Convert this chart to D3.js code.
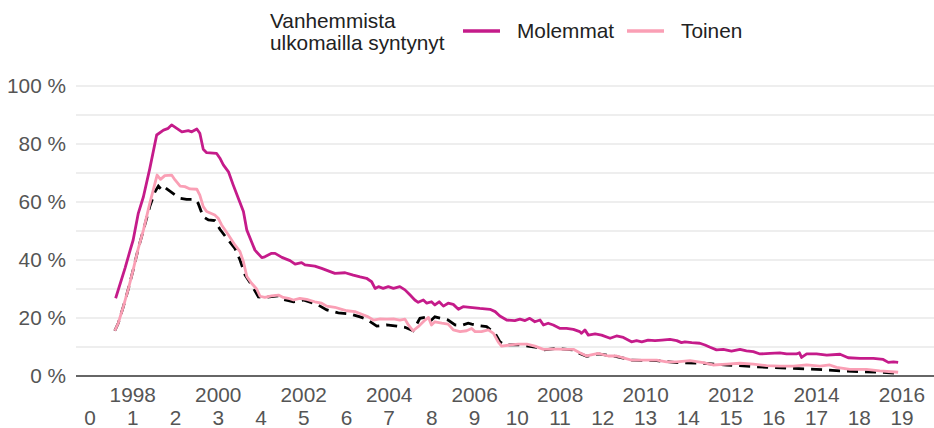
<!DOCTYPE html>
<html lang="fi">

<head>
    <meta charset="UTF-8">
    <title>Vanhemmista ulkomailla syntynyt</title>
    <style>
        body {
            margin: 0;
            background: #fff;
        }

        svg text {
            font-family: "Liberation Sans", Arial, sans-serif;
        }
    </style>
</head>

<body>
    <script src="https://d3js.org/d3.v7.min.js"></script>
    <script>

        // data: [year, percent]
        let molemmat = [
            [1997.60, 26.8], [1997.82, 37.2], [1997.94, 43.4], [1998.01, 46.9], [1998.13, 56.1],
            [1998.25, 61.8], [1998.40, 71.6], [1998.56, 83.1], [1998.72, 84.8], [1998.83, 85.4],
            [1998.91, 86.6], [1999.03, 85.4], [1999.15, 84.2], [1999.30, 84.6], [1999.38, 84.2],
            [1999.50, 85.2], [1999.57, 83.7], [1999.65, 78.2], [1999.73, 77.0], [1999.96, 76.8],
            [2000.04, 75.1], [2000.12, 72.8], [2000.24, 70.4], [2000.35, 65.9], [2000.47, 61.3],
            [2000.59, 56.7], [2000.67, 50.3], [2000.78, 46.3], [2000.86, 43.4], [2001.02, 40.8],
            [2001.09, 41.1], [2001.25, 42.3], [2001.33, 42.3], [2001.49, 40.9], [2001.68, 39.8],
            [2001.80, 38.6], [2001.95, 39.1], [2002.03, 38.3], [2002.26, 37.9], [2002.42, 37.1],
            [2002.62, 36.0], [2002.73, 35.4], [2002.97, 35.6], [2003.16, 34.8], [2003.32, 34.2],
            [2003.47, 33.7], [2003.59, 32.5], [2003.67, 30.2], [2003.75, 30.8], [2003.86, 30.2],
            [2003.98, 30.8], [2004.10, 30.2], [2004.25, 30.8], [2004.37, 29.7], [2004.49, 27.9],
            [2004.60, 26.2], [2004.68, 25.4], [2004.80, 26.2], [2004.88, 25.1], [2004.99, 25.6],
            [2005.07, 24.5], [2005.17, 25.6], [2005.27, 24.1], [2005.38, 25.1], [2005.50, 24.7],
            [2005.62, 23.0], [2005.73, 23.9], [2005.89, 23.7], [2006.12, 23.3], [2006.36, 23.0],
            [2006.48, 22.2], [2006.59, 20.7], [2006.75, 19.3], [2006.94, 19.1], [2007.06, 19.6],
            [2007.18, 19.1], [2007.29, 19.9], [2007.41, 18.7], [2007.53, 19.3], [2007.61, 17.6],
            [2007.72, 18.2], [2007.84, 17.6], [2008.00, 16.4], [2008.15, 16.4], [2008.31, 16.1],
            [2008.46, 15.3], [2008.50, 14.7], [2008.58, 15.9], [2008.66, 14.1], [2008.82, 14.5],
            [2008.97, 14.1], [2009.17, 13.0], [2009.32, 13.8], [2009.48, 13.3], [2009.67, 11.8],
            [2009.79, 12.2], [2009.91, 11.8], [2010.06, 12.4], [2010.22, 12.2], [2010.38, 12.4],
            [2010.57, 12.6], [2010.73, 12.2], [2010.84, 11.5], [2010.92, 11.8], [2011.08, 11.5],
            [2011.27, 11.3], [2011.39, 10.7], [2011.51, 9.9], [2011.66, 9.0], [2011.82, 9.2],
            [2012.01, 8.6], [2012.21, 9.2], [2012.36, 8.7], [2012.52, 8.4], [2012.68, 7.6],
            [2012.91, 7.8], [2013.14, 8.0], [2013.30, 7.6], [2013.53, 7.6], [2013.60, 8.0],
            [2013.65, 6.4], [2013.77, 7.6], [2014.00, 7.6], [2014.24, 7.2], [2014.55, 7.5],
            [2014.74, 6.3], [2015.02, 6.1], [2015.33, 6.1], [2015.56, 5.7], [2015.68, 4.7],
            [2015.80, 4.9], [2015.91, 4.7]
        ];

        let toinen = [
            [1997.58, 15.6], [1997.66, 18.2], [1997.78, 23.9], [1997.90, 30.2], [1998.01, 36.6],
            [1998.13, 44.0], [1998.25, 50.3], [1998.40, 59.6], [1998.52, 66.4], [1998.57, 69.3],
            [1998.65, 67.8], [1998.75, 69.1], [1998.91, 69.3], [1998.99, 67.6], [1999.11, 65.5],
            [1999.22, 65.3], [1999.34, 64.5], [1999.50, 64.4], [1999.57, 62.4], [1999.65, 58.4],
            [1999.73, 56.7], [1999.92, 55.5], [2000.00, 54.4], [2000.08, 52.1], [2000.24, 48.6],
            [2000.39, 45.2], [2000.51, 42.9], [2000.59, 39.4], [2000.67, 34.3], [2000.78, 32.0],
            [2000.90, 30.0], [2000.98, 27.5], [2001.09, 27.1], [2001.25, 27.6], [2001.41, 27.9],
            [2001.52, 27.1], [2001.64, 26.8], [2001.76, 26.2], [2001.91, 26.8], [2002.07, 26.4],
            [2002.26, 25.6], [2002.42, 25.1], [2002.54, 24.1], [2002.73, 23.7], [2002.89, 23.0],
            [2003.01, 22.5], [2003.20, 22.2], [2003.36, 21.3], [2003.51, 20.4], [2003.63, 19.3],
            [2003.79, 19.7], [2003.94, 19.6], [2004.10, 19.7], [2004.25, 19.3], [2004.37, 19.6],
            [2004.45, 17.6], [2004.56, 15.6], [2004.68, 17.0], [2004.84, 19.3], [2004.92, 20.2],
            [2004.99, 17.6], [2005.07, 18.7], [2005.23, 18.2], [2005.38, 17.9], [2005.50, 15.9],
            [2005.66, 15.3], [2005.81, 15.6], [2005.93, 16.4], [2006.01, 15.3], [2006.16, 15.3],
            [2006.32, 15.9], [2006.44, 14.7], [2006.55, 11.8], [2006.63, 10.3], [2006.83, 10.7],
            [2007.02, 11.0], [2007.22, 11.0], [2007.41, 10.3], [2007.61, 9.2], [2007.80, 9.3],
            [2007.96, 9.3], [2008.15, 9.2], [2008.31, 9.2], [2008.46, 8.0], [2008.62, 6.9],
            [2008.89, 7.8], [2009.13, 6.9], [2009.32, 6.9], [2009.67, 5.5], [2009.95, 5.5],
            [2010.26, 5.5], [2010.49, 4.9], [2010.73, 4.9], [2011.04, 5.3], [2011.35, 4.6],
            [2011.58, 3.8], [2011.90, 4.1], [2012.21, 4.4], [2012.52, 4.1], [2012.83, 3.6],
            [2013.14, 3.4], [2013.46, 3.4], [2013.77, 3.8], [2014.08, 3.4], [2014.31, 3.8],
            [2014.47, 3.0], [2014.78, 2.3], [2015.17, 2.3], [2015.48, 1.8], [2015.91, 1.3]
        ];

        // dashed reference line (not in legend)
        let vertailu = [
            [1997.58, 15.6], [1997.66, 18.2], [1997.78, 23.9], [1997.90, 30.2], [1998.01, 36.6],
            [1998.13, 44.0], [1998.25, 50.3], [1998.40, 58.5], [1998.52, 63.5], [1998.60, 65.5],
            [1998.68, 64.1], [1998.75, 65.0], [1998.99, 62.4], [1999.11, 61.3], [1999.26, 60.9],
            [1999.46, 60.9], [1999.53, 59.6], [1999.65, 54.9], [1999.77, 53.8], [1999.92, 53.6],
            [2000.04, 50.6], [2000.20, 47.5], [2000.39, 44.0], [2000.51, 40.0], [2000.63, 34.8],
            [2000.78, 31.4], [2000.94, 27.3], [2001.09, 27.1], [2001.25, 27.4], [2001.41, 27.6],
            [2001.52, 26.4], [2001.76, 25.6], [2001.99, 26.2], [2002.30, 24.8], [2002.54, 22.8],
            [2002.81, 21.8], [2003.08, 21.4], [2003.32, 20.4], [2003.47, 19.6], [2003.71, 17.2],
            [2003.94, 17.6], [2004.18, 17.2], [2004.37, 16.8], [2004.56, 15.6], [2004.72, 19.9],
            [2004.92, 20.4], [2004.99, 19.3], [2005.07, 20.4], [2005.38, 19.3], [2005.54, 17.6],
            [2005.70, 17.5], [2005.85, 18.2], [2005.93, 17.9], [2006.12, 17.3], [2006.28, 17.0],
            [2006.36, 16.1], [2006.48, 14.7], [2006.59, 11.8], [2006.71, 10.7], [2007.02, 10.8],
            [2007.41, 10.0], [2007.61, 9.0], [2007.92, 9.5], [2008.31, 9.0], [2008.46, 7.8],
            [2008.62, 6.8], [2008.89, 7.6], [2009.32, 6.7], [2009.67, 5.5], [2010.26, 5.3],
            [2010.73, 4.6], [2011.35, 4.4], [2011.90, 3.8], [2012.36, 3.4], [2012.83, 3.0],
            [2013.46, 2.6], [2014.00, 2.3], [2014.55, 1.8], [2015.02, 1.5], [2015.48, 1.3],
            [2015.91, 0.9]
        ];

        let yearTicks = [1998, 2000, 2002, 2004, 2006, 2008, 2010, 2012, 2014, 2016];
        let ageTicks = d3.range(0, 20);
        let yTicks = [0, 20, 40, 60, 80, 100];
        let gridTicks = d3.range(0, 101, 10);
        let legendTitle = ['Vanhemmista', 'ulkomailla syntynyt'];
        let legendItems = [
            { name: 'Molemmat', color: '#c51b8a' },
            { name: 'Toinen', color: '#fa9fb5' }
        ];

        // 1. svg
        let W = 934, H = 428;
        let plot = { l: 76, r: 934, t: 86, b: 376 };
        let fs = '20.8px';

        let s = d3.select('body').append('svg')
            .attr('width', W)
            .attr('height', H);

        let x = d3.scaleLinear().domain([1997, 2016]).range([90, 902]);
        let y = d3.scaleLinear().domain([0, 100]).range([plot.b, plot.t]);

        // 2. grid + axes
        s.append('g').selectAll('line')
            .data(gridTicks.filter(d => d > 0))
            .enter().append('line')
            .attr('x1', plot.l).attr('x2', plot.r)
            .attr('y1', d => y(d)).attr('y2', d => y(d))
            .attr('stroke', '#e8e8e8')
            .attr('stroke-width', 1.5);

        s.append('line')
            .attr('x1', plot.l).attr('x2', plot.r)
            .attr('y1', y(0)).attr('y2', y(0))
            .attr('stroke', '#666')
            .attr('stroke-width', 2);

        s.append('g').selectAll('text')
            .data(yTicks)
            .enter().append('text')
            .attr('x', 66)
            .attr('y', d => y(d))
            .attr('dy', '0.36em')
            .attr('text-anchor', 'end')
            .style('font-size', fs)
            .style('fill', '#555')
            .text(d => d + ' %');

        s.append('g').selectAll('text')
            .data(yearTicks)
            .enter().append('text')
            .attr('x', d => x(d))
            .attr('y', 402)
            .attr('text-anchor', 'middle')
            .style('font-size', fs)
            .style('fill', '#555')
            .text(d => d);

        s.append('g').selectAll('text')
            .data(ageTicks)
            .enter().append('text')
            .attr('x', d => x(1997 + d))
            .attr('y', 425)
            .attr('text-anchor', 'middle')
            .style('font-size', fs)
            .style('fill', '#555')
            .text(d => d);

        // 3. lines
        let line = d3.line().x(d => x(d[0])).y(d => y(d[1]));

        s.append('path')
            .datum(vertailu)
            .attr('d', line)
            .attr('fill', 'none')
            .attr('stroke', '#000')
            .attr('stroke-width', 2.8)
            .attr('stroke-dasharray', '11,7');

        s.append('path')
            .datum(toinen)
            .attr('d', line)
            .attr('fill', 'none')
            .attr('stroke', legendItems[1].color)
            .attr('stroke-width', 2.8)
            .attr('stroke-linejoin', 'round');

        s.append('path')
            .datum(molemmat)
            .attr('d', line)
            .attr('fill', 'none')
            .attr('stroke', legendItems[0].color)
            .attr('stroke-width', 2.8)
            .attr('stroke-linejoin', 'round');

        // 4. legend
        let lg = s.append('g');
        lg.selectAll('text.title')
            .data(legendTitle)
            .enter().append('text')
            .attr('class', 'title')
            .attr('x', 270)
            .attr('y', (d, i) => 28 + i * 22)
            .style('font-size', fs)
            .style('fill', '#222')
            .text(d => d);

        let lx = [463, 627];
        let items = lg.selectAll('g.item')
            .data(legendItems)
            .enter().append('g')
            .attr('class', 'item')
            .attr('transform', (d, i) => `translate(${lx[i]},31)`);

        items.append('line')
            .attr('x1', 0).attr('x2', 37)
            .attr('stroke', d => d.color)
            .attr('stroke-width', 3.5);

        items.append('text')
            .attr('x', 54)
            .attr('dy', '0.33em')
            .style('font-size', fs)
            .style('fill', '#222')
            .text(d => d.name);
    </script>
</body>

</html>
